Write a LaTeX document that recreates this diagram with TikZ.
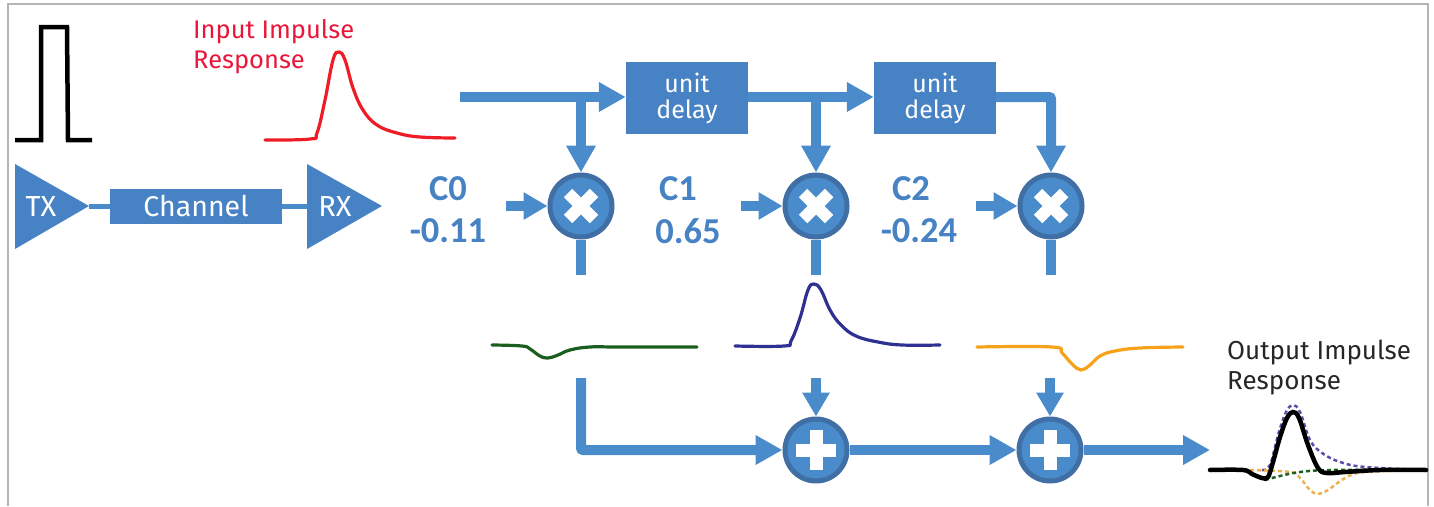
\documentclass[tikz,border=0pt]{standalone}
\usepackage{fontspec}
\setmainfont{Fira Sans}
\newfontfamily\boldf[Scale=1]{Carlito}
\usetikzlibrary{arrows.meta}
\definecolor{flow}{HTML}{4A8CCB}
\definecolor{boxblue}{HTML}{4682C4}
\definecolor{ringblue}{HTML}{3F6FA5}
\definecolor{frameg}{HTML}{B5B5B5}
\definecolor{redc}{HTML}{EE1C25}
\definecolor{labelred}{HTML}{E8173A}
\definecolor{greenc}{HTML}{1B5E20}
\definecolor{bluec}{HTML}{2E3192}
\definecolor{orangec}{HTML}{F7A21B}
\definecolor{dashblue}{HTML}{5A4FA8}
\definecolor{dashorange}{HTML}{EDB04E}
\definecolor{coefc}{HTML}{4682C4}
\tikzset{
 x=1pt,y=-1pt,
 flowline/.style={draw=flow,line width=10pt},
 flowarrow/.style={flowline,-{Triangle[length=27pt,width=28pt]}},
 shortarrow/.style={flowline,-{Triangle[length=24pt,width=26pt]}},
 thinline/.style={draw=flow,line width=5pt},
 boxnode/.style={fill=boxblue,text=white,inner sep=0pt,align=center,font=\fontsize{28.5}{30}\selectfont},
 delaybox/.style={boxnode,minimum width=122pt,minimum height=72pt,font=\fontsize{25}{26}\selectfont},
 ampnode/.style={text=white,inner sep=0pt,font=\fontsize{29}{30}\selectfont},
 coef/.style={text=coefc,inner sep=0pt,font=\boldf\bfseries\fontsize{36.5}{38}\selectfont},
 lbl/.style={inner sep=0pt,anchor=north west,align=left},
 opcircle/.style={circle,fill=flow,draw=ringblue,line width=5pt,minimum size=62pt,inner sep=0pt},
 mulop/.style={opcircle,path picture={
   \draw[white,line width=12pt] ([shift={(-13,-13)}]path picture bounding box.center) -- ([shift={(13,13)}]path picture bounding box.center);
   \draw[white,line width=12pt] ([shift={(-13,13)}]path picture bounding box.center) -- ([shift={(13,-13)}]path picture bounding box.center);}},
 addop/.style={opcircle,path picture={
   \draw[white,line width=13pt] ([shift={(-20,0)}]path picture bounding box.center) -- ([shift={(20,0)}]path picture bounding box.center);
   \draw[white,line width=13pt] ([shift={(0,-20)}]path picture bounding box.center) -- ([shift={(0,20)}]path picture bounding box.center);}},
 wave/.style={line width=3.2pt,line join=round,line cap=round},
 dashwave/.style={line width=2.5pt,dash pattern=on 4pt off 3pt},
}
\begin{document}
\begin{tikzpicture}
\useasboundingbox (0,0) rectangle (1434,506);
% frame
\draw[frameg,line width=2pt] (8,506) -- (8,4) -- (1428,4) -- (1428,506);
% waveforms
\draw[black,line width=4.5pt,line join=miter] (15,140) -- (41,140) -- (41,27) -- (67,27) -- (68,140) -- (92,140);
\draw[redc,wave] plot[smooth,tension=0.7] coordinates {(265,140) (310,139) (317,133) (325,100) (333,60) (339,52) (345,60) (353,88) (363,110) (377,125) (397,133) (420,137) (455,138)};
\draw[greenc,wave] plot[smooth,tension=0.7] coordinates {(492,345) (522,346) (530,349) (540,356) (548,358) (558,355) (570,350) (590,347) (620,347) (697,347)};
\draw[bluec,wave] plot[smooth,tension=0.7] coordinates {(735,346) (784,346) (791,341) (800,318) (808,290) (814,284) (821,290) (830,310) (841,325) (856,336) (878,342) (902,345) (940,345)};
\draw[orangec,wave] plot[smooth,tension=0.7] coordinates {(977,347) (1052,347) (1062,353) (1072,364) (1081,370) (1090,365) (1100,356) (1115,351) (1140,348) (1183,347)};
\draw[dashblue,dashwave] plot[smooth,tension=0.6] coordinates {(1262,470) (1270,465) (1278,435) (1286,412) (1293,405) (1300,412) (1310,440) (1322,453) (1340,462) (1365,467) (1426,470)};
\draw[dashorange,dashwave] plot[smooth,tension=0.6] coordinates {(1250,470) (1290,472) (1300,478) (1310,490) (1318,494) (1328,490) (1345,478) (1365,472) (1426,470)};
\draw[greenc,dashwave] plot[smooth,tension=0.6] coordinates {(1265,480) (1280,476) (1300,472) (1330,470) (1400,470)};
\draw[black,line width=4.5pt,line cap=round] plot[smooth,tension=0.6] coordinates {(1210,470) (1243,470) (1252,474) (1262,478) (1268,477) (1273,462) (1280,437) (1287,418) (1293,412) (1299,418) (1308,445) (1318,468) (1327,473) (1345,472) (1380,470) (1426,470)};
% labels
\node[lbl,text=labelred,font=\fontsize{25.5}{30}\selectfont] (inlabel) at (193,19) {Input Impulse\\Response};
\node[lbl,text=black!85,font=\fontsize{26}{30}\selectfont] (outlabel) at (1227,340) {Output Impulse\\Response};
% TX chain
\coordinate (txtip) at (89,206);
\coordinate (rxback) at (307,206);
\node[boxnode,minimum width=172pt,minimum height=35pt] (channel) at (196,206) {Channel};
\draw[thinline] (txtip) -- (channel.west);
\draw[thinline] (channel.east) -- (rxback);
\fill[boxblue] (15,164) -- (txtip) -- (15,249) -- cycle;
\fill[boxblue] (307,164) -- (382,206) -- (307,249) -- cycle;
\node[ampnode] (tx) at (41,207) {TX};
\node[ampnode] (rx) at (335,207) {RX};
% coefficients
\node[coef] (c0name) at (448,189) {C0};
\node[coef] (c0val) at (448,231) {-0.11};
\node[coef] (c1name) at (678,189) {C1};
\node[coef] (c1val) at (688,231) {0.65};
\node[coef] (c2name) at (911,189) {C2};
\node[coef] (c2val) at (919,231) {-0.24};
% main blocks
\node[delaybox] (d1) at (687,98) {unit\\delay};
\node[delaybox] (d2) at (935,98) {unit\\delay};
\node[mulop] (m0) at (581,206) {};
\node[mulop] (m1) at (816,206) {};
\node[mulop] (m2) at (1051,206) {};
\node[addop] (a1) at (816,450) {};
\node[addop] (a2) at (1050,450) {};
% free ends
\coordinate (in) at (460,97);
\coordinate (b0) at (581,97);
\coordinate (b1) at (816,97);
\coordinate (b2) at (1051,97);
\coordinate (k0) at (506,206);
\coordinate (k1) at (741,206);
\coordinate (k2) at (976,206);
\coordinate (o0) at (581,275);
\coordinate (o1) at (816,275);
\coordinate (o2) at (1051,275);
\coordinate (s0) at (581,378);
\coordinate (s1) at (816,378);
\coordinate (s2) at (1050,378);
\coordinate (out) at (1210,450);
% connectors
\draw[flowarrow] (in) -- (d1.west |- in);
\draw[flowarrow] (d1.east |- b1) -- (d2.west |- b1);
\draw[flowarrow,rounded corners=2pt] (d2.east |- b2) -- (b2) -- (m2.north);
\draw[flowarrow] (b0) -- (m0.north);
\draw[flowarrow] (b1) -- (m1.north);
\draw[shortarrow] (k0) -- (m0.west);
\draw[shortarrow] (k1) -- (m1.west);
\draw[shortarrow] (k2) -- (m2.west);
\draw[flowline] (m0.south) -- (o0);
\draw[flowline] (m1.south) -- (o1);
\draw[flowline] (m2.south) -- (o2);
\draw[flowarrow,rounded corners=2pt] (s0) |- (a1.west);
\draw[shortarrow] (s1) -- (a1.north);
\draw[shortarrow] (s2) -- (a2.north);
\draw[flowarrow] (a1.east) -- (a2.west);
\draw[flowarrow] (a2.east) -- (out);
\end{tikzpicture}
\end{document}
